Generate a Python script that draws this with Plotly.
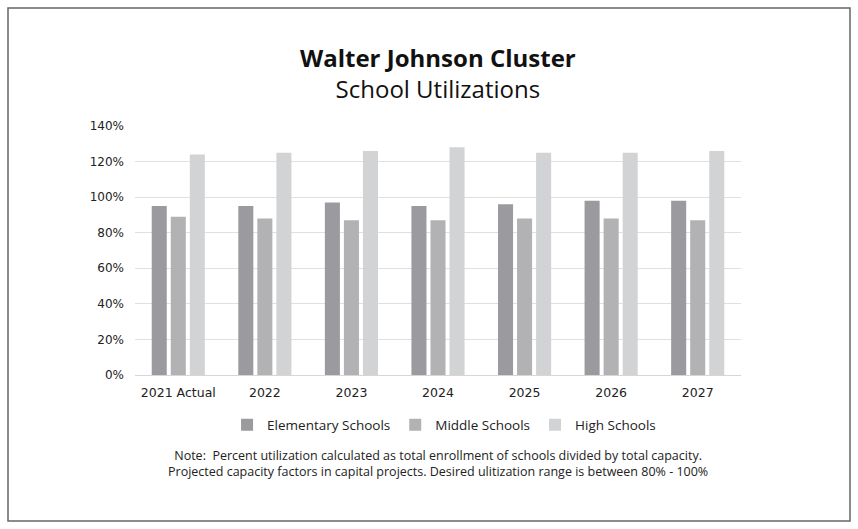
import plotly.graph_objects as go

categories = ["2021 Actual", "2022", "2023", "2024", "2025", "2026", "2027"]
elementary = [95, 95, 97, 95, 96, 98, 98]
middle = [89, 88, 87, 87, 88, 88, 87]
high = [124, 125, 126, 128, 125, 125, 126]
series_names = ["Elementary Schools", "Middle Schools", "High Schools"]
colors = ["#9b9b9f", "#b2b2b5", "#d2d3d5"]

W, H = 858, 529
L, R, T, B = 135, 117, 126, 154
pw, ph = W - L - R, H - T - B

def px(x):
    return (x - L) / pw

def py(y):
    return (H - B - y) / ph

fig = go.Figure()
for name, vals, c in zip(series_names, [elementary, middle, high], colors):
    fig.add_trace(go.Bar(x=categories, y=vals, name=name, marker=dict(color=c, line=dict(width=0))))

fig.update_layout(
    width=W, height=H,
    margin=dict(l=L, r=R, t=T, b=B),
    paper_bgcolor="white", plot_bgcolor="white",
    barmode="group", bargap=0.34, bargroupgap=0.21,
    font=dict(family="DejaVu Sans", color="#333333"),
    xaxis=dict(showgrid=False, showline=True, linecolor="#d6d6d6", linewidth=1,
               tickfont=dict(size=12.5, family="DejaVu Sans", color="#222"), ticks="",
               ticklabelstandoff=6),
    yaxis=dict(range=[0, 140], dtick=20, ticksuffix="%", showgrid=True, gridcolor="#e0e0e0",
               gridwidth=1, zeroline=False, tickfont=dict(size=12, family="DejaVu Sans", color="#222"),
               ticks="", ticklabelstandoff=10),
    legend=dict(orientation="h", x=0.51, xanchor="center", y=py(425), yanchor="middle",
                font=dict(size=13.5, family="Open Sans", color="#222"), itemwidth=30,
                traceorder="normal"),
    showlegend=True,
)

fig.add_shape(type="rect", xref="paper", yref="paper",
              x0=px(8), x1=px(850), y0=py(521), y1=py(8),
              line=dict(color="#666666", width=1.5), fillcolor="rgba(0,0,0,0)", layer="below")

fig.add_annotation(xref="paper", yref="paper", x=0.5, y=py(73), xanchor="center", yanchor="middle",
                   text='<span style="font-size:24px"><b>Walter Johnson Cluster</b></span><br>School Utilizations',
                   showarrow=False, align="center",
                   font=dict(size=24, family="Open Sans", color="#111"))
fig.add_annotation(xref="paper", yref="paper", x=0.5, y=py(463), xanchor="center", yanchor="middle",
                   text="Note:  Percent utilization calculated as total enrollment of schools divided by total capacity.<br>"
                        "Projected capacity factors in capital projects. Desired ulitization range is between 80% - 100%",
                   showarrow=False, align="center",
                   font=dict(size=12.5, family="Open Sans", color="#222"))

fig.write_html("out.html", config={"displayModeBar": False})

with open("out.html", "r", encoding="utf-8") as f:
    html = f.read()
html = html.replace("<body>", '<body style="margin:0;padding:0;">', 1)
with open("out.html", "w", encoding="utf-8") as f:
    f.write(html)
